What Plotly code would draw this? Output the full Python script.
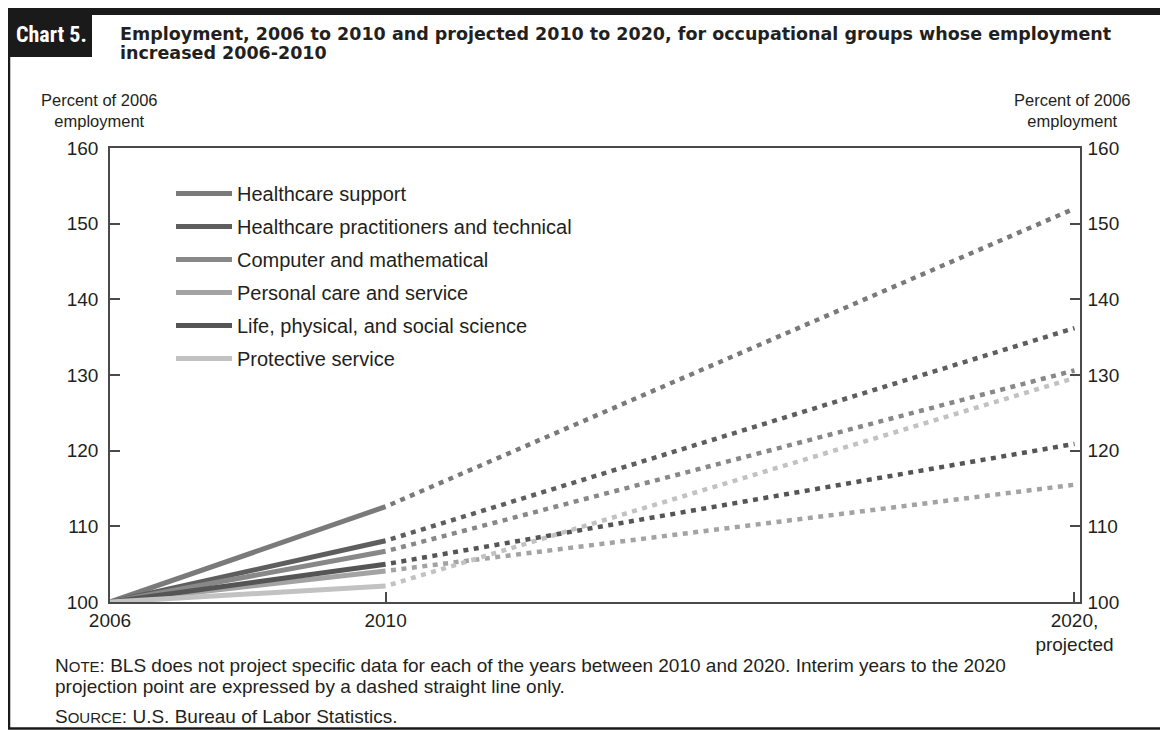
import plotly.graph_objects as go

# ---------------- data ----------------
series = [
    "Healthcare support",
    "Healthcare practitioners and technical",
    "Computer and mathematical",
    "Personal care and service",
    "Life, physical, and social science",
    "Protective service",
]
colors = ["#7a7a7a", "#5e5e5e", "#888888", "#a3a3a3", "#555555", "#c2c2c2"]
years_actual = [2006, 2010]
years_proj = [2010, 2020]
v2006 = [100, 100, 100, 100, 100, 100]
v2010 = [112.6, 108.1, 106.7, 104.1, 105.0, 102.1]
v2020 = [152.0, 136.2, 130.6, 115.5, 120.9, 129.6]
y_ticks = [100, 110, 120, 130, 140, 150, 160]
x_tickvals = [2006, 2010, 2020]
x_ticktext = ["2006", "2010", "2020,<br>projected"]

# ---------------- geometry (page pixels; page has an 8px body margin) ----------------
OFF = 8
W, H = 1168 - OFF, 730 - OFF
L, R, T, B = 110, 1080, 148, 602   # plot area in page pixels


def px(x):
    return (x - L) / (R - L)


def py(y):
    return (B - y) / (B - T)


TXT = "#231f20"
FONT = "Liberation Sans, Arial, sans-serif"

fig = go.Figure()

for i, name in enumerate(series):
    fig.add_trace(go.Scatter(
        x=years_actual, y=[v2006[i], v2010[i]], mode="lines", name=name,
        legendgroup=name, line=dict(color=colors[i], width=5),
        showlegend=True, hoverinfo="skip"))
for i, name in enumerate(series):
    fig.add_trace(go.Scatter(
        x=years_proj, y=[v2010[i], v2020[i]], mode="lines", name=name,
        legendgroup=name, line=dict(color=colors[i], width=4.5, dash="0px,5.5px,5px,0px"),
        showlegend=False, hoverinfo="skip"))
# invisible trace on right axis
fig.add_trace(go.Scatter(x=[2006], y=[100], yaxis="y2", mode="markers",
                         marker=dict(opacity=0), showlegend=False, hoverinfo="skip"))

axis_common = dict(showgrid=False, zeroline=False, showline=True, linecolor="#4a4a4a",
                   linewidth=1.5, ticks="inside", ticklen=10, tickcolor="#4a4a4a",
                   tickwidth=1.5, tickfont=dict(family=FONT, size=19, color=TXT))

fig.update_layout(
    width=W, height=H,
    margin=dict(l=L - OFF, r=1168 - R, t=T - OFF, b=730 - B, pad=0),
    paper_bgcolor="white", plot_bgcolor="white",
    xaxis=dict(range=[2006, 2020.08], tickvals=x_tickvals, ticktext=x_ticktext,
               mirror=True, ticklabelstandoff=0, **axis_common),
    yaxis=dict(range=[100, 160], tickvals=y_ticks, ticklabelstandoff=6, **axis_common),
    yaxis2=dict(range=[100, 160], tickvals=y_ticks, overlaying="y", side="right",
                ticklabelstandoff=2, **axis_common),
    showlegend=True,
    legend=dict(x=px(171), y=py(174), xanchor="left", yanchor="top",
                font=dict(family=FONT, size=20, color=TXT), bgcolor="rgba(0,0,0,0)",
                tracegroupgap=4, itemwidth=56, traceorder="grouped"),
)

shapes = [
    # top black bar
    dict(type="rect", xref="paper", yref="paper", x0=px(8), x1=px(1168), y0=py(15), y1=py(8),
         fillcolor="#1a1a1a", line=dict(width=0), layer="above"),
    # chart label box
    dict(type="rect", xref="paper", yref="paper", x0=px(8), x1=px(92), y0=py(57), y1=py(8),
         fillcolor="#1a1a1a", line=dict(width=0), layer="above"),
    # left frame line
    dict(type="line", xref="paper", yref="paper", x0=px(9), x1=px(9), y0=py(729), y1=py(8),
         line=dict(color="#1a1a1a", width=2.5)),
    # bottom frame line
    dict(type="line", xref="paper", yref="paper", x0=px(8), x1=px(1168), y0=py(728.5), y1=py(728.5),
         line=dict(color="#1a1a1a", width=2.5)),
]
fig.update_layout(shapes=shapes)

ann = []


def text(x, y, s, size, xanchor="left", bold=False, color=TXT, family=FONT, align="left"):
    ann.append(dict(x=px(x), y=py(y), xref="paper", yref="paper", text=s, showarrow=False,
                    xanchor=xanchor, yanchor="middle", align=align,
                    font=dict(family=family, size=size, color=color,
                              weight="bold" if bold else "normal")))


TITLE_FONT = "DejaVu Sans, Liberation Sans, sans-serif"
text(51, 34, "Chart 5.", 22, xanchor="center", bold=True, color="white",
     family="Liberation Sans Narrow, Roboto Condensed, Liberation Sans, sans-serif")
text(118, 34, "Employment, 2006 to 2010 and projected 2010 to 2020, for occupational groups whose employment",
     17.5, bold=True, family=TITLE_FONT)
text(118, 53, "increased 2006-2010", 17.5, bold=True, family=TITLE_FONT)
text(99, 110, "Percent of 2006<br>employment", 16.5, xanchor="center", align="center")
text(1072, 110, "Percent of 2006<br>employment", 16.5, xanchor="center", align="center")
sc = "font-size:15px"
text(53, 665, "N<span style='%s'>OTE</span>: BLS does not project specific data for each of the years between 2010 and 2020. Interim years to the 2020" % sc, 19)
text(53, 686, "projection point are expressed by a dashed straight line only.", 19)
text(53, 716, "S<span style='%s'>OURCE</span>: U.S. Bureau of Labor Statistics." % sc, 19)
fig.update_layout(annotations=ann)

fig.write_html("out.html")
